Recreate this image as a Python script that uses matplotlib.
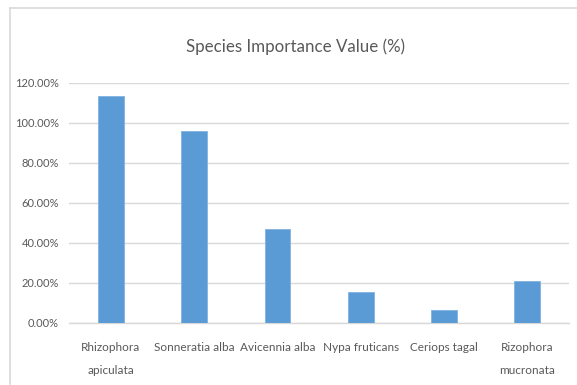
import matplotlib
matplotlib.use("Agg")
import matplotlib.pyplot as plt
from matplotlib.lines import Line2D
from matplotlib.ticker import FuncFormatter, MultipleLocator

species = ["Rhizophora\napiculata", "Sonneratia alba", "Avicennia alba",
           "Nypa fruticans", "Ceriops tagal", "Rizophora\nmucronata"]
importance_value = [113.3, 96.0, 46.7, 15.6, 6.6, 20.8]  # percent

TEXT = "#595959"
GRID = "#D9D9D9"
BAR = "#5B9BD5"

plt.rcParams["font.family"] = ["Lato", "DejaVu Sans"]

fig = plt.figure(figsize=(5.77, 3.85), dpi=100)
W, H = 577, 385

# chart area border (top and left edges)
fig.add_artist(Line2D([10 / W, 1.0], [1 - 8 / H, 1 - 8 / H], color=GRID, lw=1.2))
fig.add_artist(Line2D([10 / W, 10 / W], [1 - 8 / H, 1 - 384 / H], color=GRID, lw=1.2))

ax = fig.add_axes([69.3 / W, 1 - 322.7 / H, (569 - 69.3) / W, (322.7 - 82.7) / H])

x = range(len(species))
ax.bar(x, [v / 100 for v in importance_value], width=0.31, color=BAR,
       edgecolor="#7FB2E0", linewidth=0.6, zorder=3)

ax.set_xlim(-0.5, len(species) - 0.5)
ax.set_ylim(0, 1.2)
ax.yaxis.set_major_locator(MultipleLocator(0.2))
ax.yaxis.set_major_formatter(FuncFormatter(lambda v, _: f"{v * 100:.2f}%"))
ax.grid(axis="y", color=GRID, linewidth=1.0, zorder=0)
ax.set_axisbelow(True)

for s in ["top", "right", "left"]:
    ax.spines[s].set_visible(False)
ax.spines["bottom"].set_color(GRID)
ax.spines["bottom"].set_linewidth(1.0)

ax.set_xticks(list(x))
ax.set_xticklabels(species, color=TEXT, fontsize=8.5, linespacing=2.3)
ax.tick_params(axis="x", length=0, pad=14)
ax.tick_params(axis="y", length=0, pad=7.5, labelsize=8.0, labelcolor=TEXT)

fig.text(296 / W, 1 - 47 / H, "Species Importance Value (%)", ha="center",
         va="center", fontsize=12.2, color=TEXT)

fig.savefig("out.png", dpi=100, facecolor="white")
